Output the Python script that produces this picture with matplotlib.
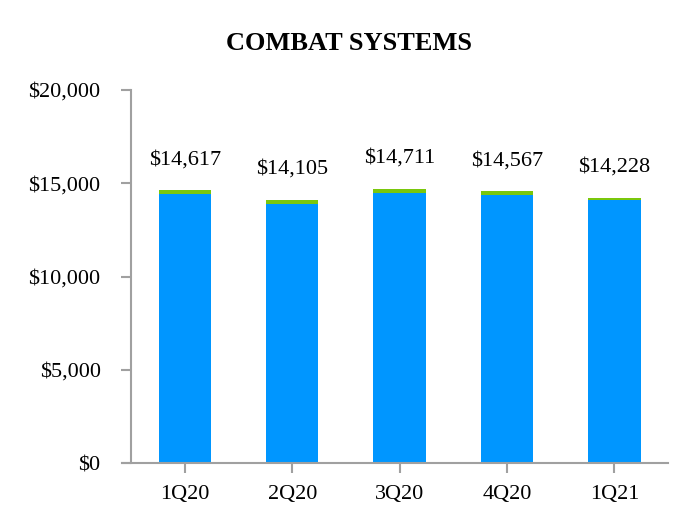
import matplotlib.pyplot as plt
import numpy as np

plt.rcParams['font.family'] = ['Liberation Serif', 'DejaVu Serif']

# Data
quarters = ['1Q20', '2Q20', '3Q20', '4Q20', '1Q21']
totals = [14617, 14105, 14711, 14567, 14228]
green_part = [220, 220, 220, 220, 110]
blue_part = [t - g for t, g in zip(totals, green_part)]

blue = '#0096FF'
green = '#7AC70C'
axis_gray = '#A0A0A0'

fig = plt.figure(figsize=(6.98, 5.32), dpi=100)
ax = fig.add_axes([122 / 698, 1 - 463 / 532, (668 - 122) / 698, (463 - 90) / 532])

x = np.arange(len(quarters))
ax.bar(x, blue_part, width=0.49, color=blue, zorder=2)
ax.bar(x, green_part, width=0.49, bottom=blue_part, color=green, zorder=2)

# Value labels above bars
for xi, t in zip(x, totals):
    ax.annotate(f'${t:,}', (xi, t), xytext=(0, 22), textcoords='offset points',
                ha='center', va='center', fontsize=16)

ax.set_xlim(-0.585, 4.5)
ax.set_ylim(0, 20000)
ax.set_yticks([0, 5000, 10000, 15000, 20000])
ax.set_yticklabels(['$0', '$5,000', '$10,000', '$15,000', '$20,000'])
ax.set_xticks(x)
ax.set_xticklabels(quarters)

for s in ['top', 'right']:
    ax.spines[s].set_visible(False)
ax.spines['left'].set_position(('data', -0.5))
for s in ['left', 'bottom']:
    ax.spines[s].set_color(axis_gray)
    ax.spines[s].set_linewidth(1.5)

ax.tick_params(axis='y', length=7, width=1.5, color=axis_gray, pad=15, labelsize=16)
ax.tick_params(axis='x', length=7, width=1.5, color=axis_gray, pad=9, labelsize=16)

fig.text(349 / 698, 1 - 43 / 532, 'COMBAT SYSTEMS', ha='center', va='center',
         fontsize=19, fontweight='bold')

fig.savefig('out.png', dpi=100)
